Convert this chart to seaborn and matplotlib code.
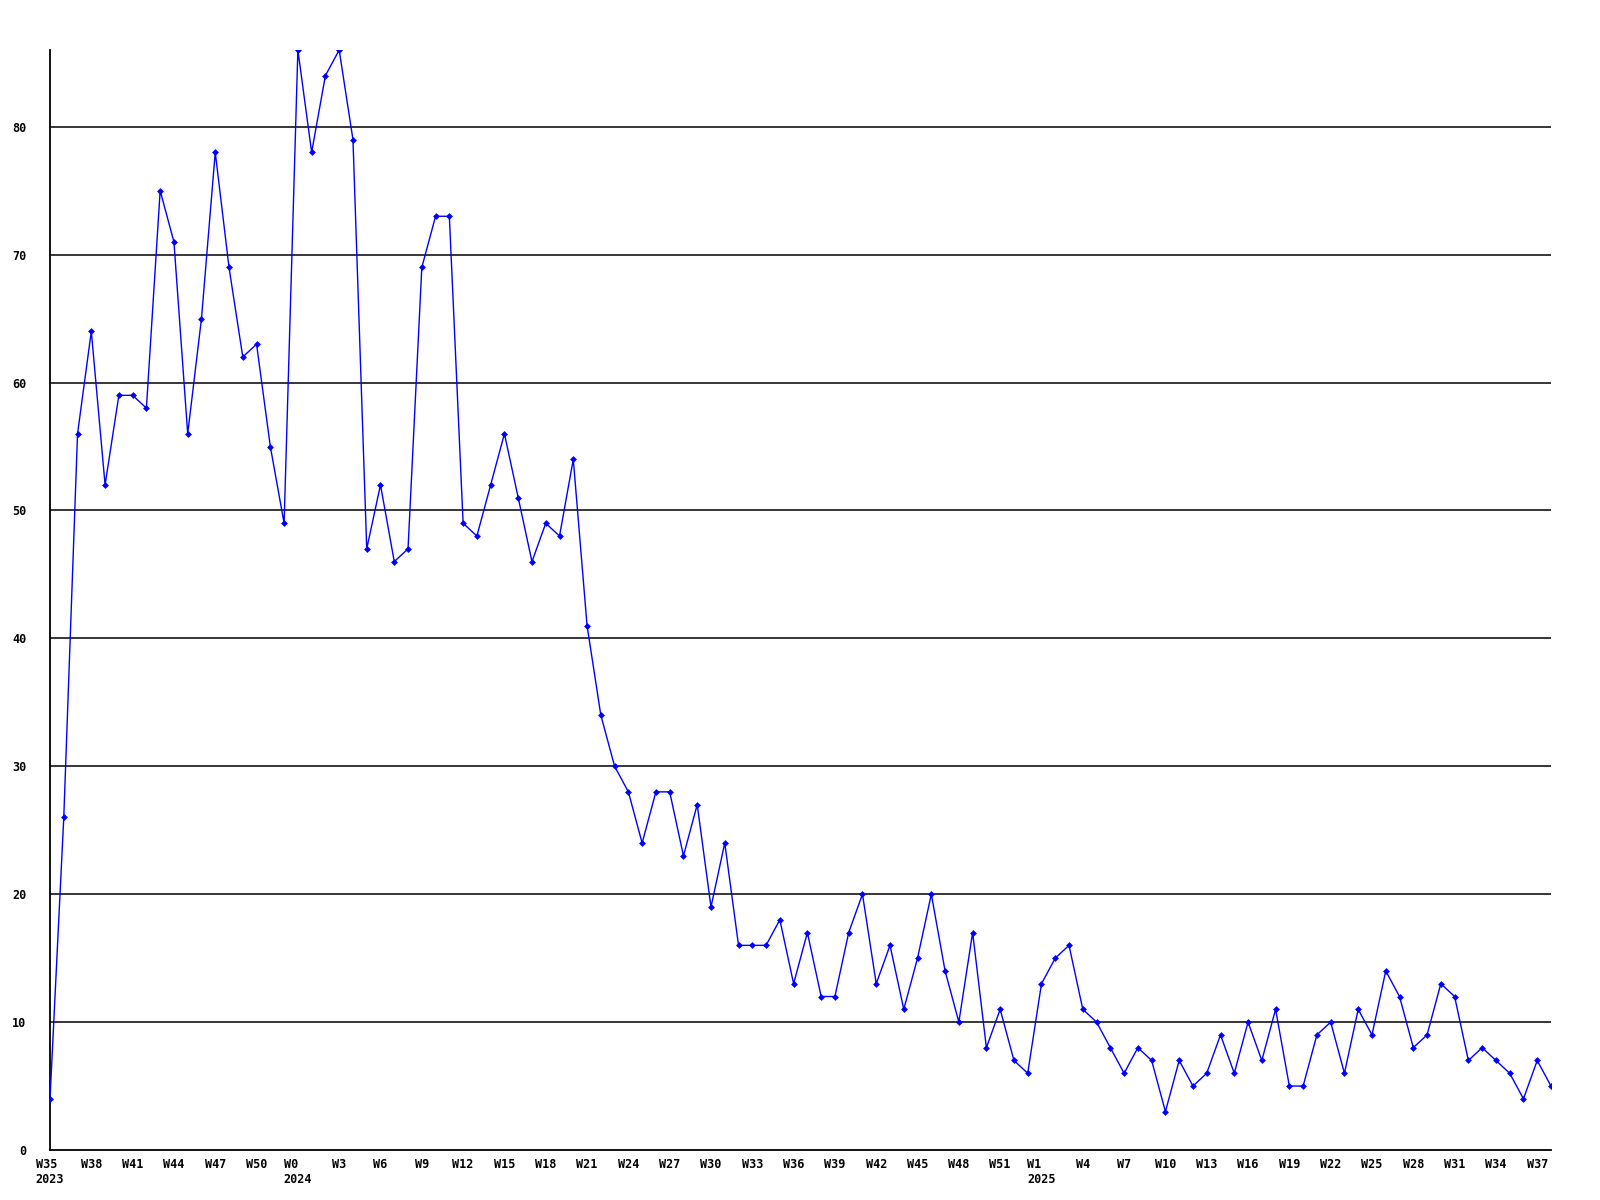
import numpy as np
import pandas as pd
import matplotlib.pyplot as plt
import seaborn as sns

# weekly counts, W35 2023 .. W38 2025
values = [4, 26, 56, 64, 52, 59, 59, 58, 75, 71, 56, 65, 78, 69, 62, 63, 55, 49,
          86, 78, 84, 86, 79, 47, 52, 46, 47, 69, 73, 73, 49, 48, 52, 56, 51, 46,
          49, 48, 54, 41, 34, 30, 28, 24, 28, 28, 23, 27, 19, 24, 16, 16, 16, 18,
          13, 17, 12, 12, 17, 20, 13, 16, 11, 15, 20, 14, 10, 17, 8, 11, 7, 6,
          13, 15, 16, 11, 10, 8, 6, 8, 7, 3, 7, 5, 6, 9, 6, 10, 7, 11, 5, 5,
          9, 10, 6, 11, 9, 14, 12, 8, 9, 13, 12, 7, 8, 7, 6, 4, 7, 5]

tick_labels = ["W35\n2023", "W38", "W41", "W44", "W47", "W50",
               "W0\n2024", "W3", "W6", "W9", "W12", "W15", "W18", "W21", "W24",
               "W27", "W30", "W33", "W36", "W39", "W42", "W45", "W48", "W51",
               "W1\n2025", "W4", "W7", "W10", "W13", "W16", "W19", "W22", "W25",
               "W28", "W31", "W34", "W37"]

y_ticks = [0, 10, 20, 30, 40, 50, 60, 70, 80]

df = pd.DataFrame({"week": np.arange(len(values)), "count": values})

sns.set_style("white")
plt.rcParams['font.family'] = ['DejaVu Sans Mono']

fig = plt.figure(figsize=(16, 12), dpi=100)
ax = fig.add_axes([50 / 1600, 1 - 1150 / 1200, 1501 / 1600, 1100 / 1200])

for g in y_ticks[1:]:
    ax.axhline(g, color="black", lw=1.1, zorder=1)

sns.lineplot(data=df, x="week", y="count", ax=ax, color="#0000ff",
             marker="D", markersize=3.5, markeredgewidth=0, linewidth=1,
             zorder=3)

ax.set_xlim(0, len(values) - 1)
ax.set_ylim(0, max(values))
ax.set_xticks(range(0, len(values), 3))
ax.set_xticklabels(tick_labels, fontsize=8.5, fontweight="bold",
                   multialignment="left", color="black")
ax.set_yticks(y_ticks)
ax.set_yticklabels([str(v) for v in y_ticks], fontsize=8.5, fontweight="bold",
                   color="black")
ax.tick_params(axis="both", length=0)
ax.tick_params(axis="y", pad=17)
ax.tick_params(axis="x", pad=6)
ax.set_xlabel("")
ax.set_ylabel("")

for s in ["top", "right"]:
    ax.spines[s].set_visible(False)
for s in ["left", "bottom"]:
    ax.spines[s].set_color("black")
    ax.spines[s].set_linewidth(1.3)

fig.savefig("out.png", dpi=100, facecolor="white")
